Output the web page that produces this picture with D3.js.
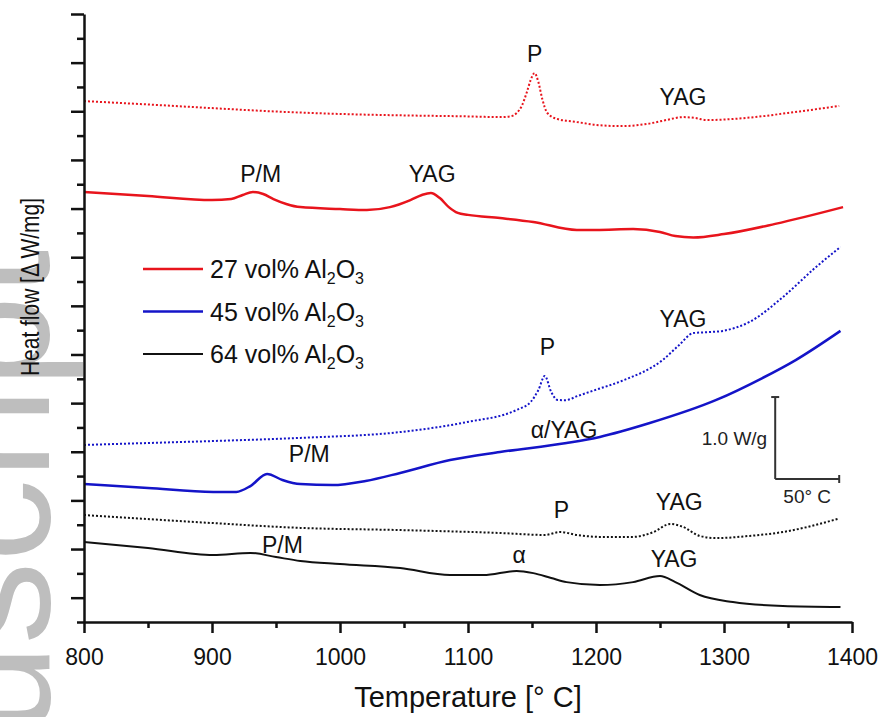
<!DOCTYPE html>
<html>
<head>
<meta charset="utf-8">
<script src="https://cdn.jsdelivr.net/npm/d3@7"></script>
<style>
  body { margin: 0; background: #fff; }
  text { font-family: "Liberation Sans", Arial, sans-serif; }
</style>
</head>
<body>
<div id="chart"></div>
<script>
// size of the picture
var w = 883;
var h = 717;

// data (y in tick units, 25 ticks on the axis)
var xTicks = [800, 900, 1000, 1100, 1200, 1300, 1400];
var xMinor = [850, 950, 1050, 1150, 1250, 1350];

var red2T = [800, 850, 900, 950, 1000, 1050, 1100, 1125, 1133, 1138, 1142, 1146, 1149, 1152, 1155, 1158, 1162, 1170, 1185, 1200, 1220, 1240, 1255, 1268, 1278, 1286, 1300, 1320, 1350, 1390];
var red2V = [21.42, 21.28, 21.13, 20.99, 20.89, 20.83, 20.79, 20.76, 20.79, 20.93, 21.22, 21.79, 22.29, 22.57, 22.20, 21.51, 20.93, 20.68, 20.56, 20.44, 20.39, 20.48, 20.64, 20.76, 20.72, 20.64, 20.66, 20.74, 20.93, 21.22];

var red1T = [800, 850, 900, 915, 924, 932, 940, 948, 958, 969, 1000, 1021, 1039, 1055, 1064, 1071, 1078, 1085, 1092, 1100, 1125, 1151, 1185, 1200, 1229, 1250, 1262, 1276, 1300, 1340, 1393];
var red1V = [17.68, 17.52, 17.35, 17.39, 17.56, 17.68, 17.60, 17.39, 17.19, 17.06, 16.98, 16.94, 17.06, 17.35, 17.56, 17.64, 17.43, 17.06, 16.82, 16.74, 16.61, 16.45, 16.12, 16.12, 16.16, 16.04, 15.87, 15.81, 15.95, 16.37, 17.06];

var blue2T = [800, 850, 900, 969, 1047, 1099, 1138, 1149, 1155, 1160, 1165, 1170, 1176, 1186, 1200, 1220, 1252, 1265, 1276, 1288, 1299, 1320, 1346, 1372, 1391];
var blue2V = [7.28, 7.36, 7.44, 7.57, 7.81, 8.22, 8.72, 9.05, 9.54, 10.12, 9.46, 9.13, 9.12, 9.30, 9.55, 9.91, 10.77, 11.39, 11.88, 11.92, 11.97, 12.34, 13.36, 14.60, 15.42];

var blue1T = [800, 850, 901, 919, 930, 943, 955, 969, 994, 1020, 1047, 1086, 1125, 1177, 1203, 1242, 1294, 1330, 1356, 1391];
var blue1V = [5.67, 5.51, 5.35, 5.35, 5.59, 6.09, 5.84, 5.67, 5.63, 5.80, 6.13, 6.66, 6.99, 7.36, 7.61, 8.18, 9.13, 10.03, 10.77, 11.97];

var black2T = [800, 900, 969, 1047, 1125, 1160, 1172, 1185, 1203, 1229, 1245, 1258, 1268, 1281, 1294, 1320, 1346, 1389];
var black2V = [4.40, 4.07, 3.87, 3.78, 3.66, 3.58, 3.70, 3.58, 3.50, 3.50, 3.70, 4.03, 3.91, 3.54, 3.45, 3.54, 3.70, 4.24];

var black1T = [800, 850, 901, 930, 950, 969, 1000, 1047, 1086, 1112, 1138, 1151, 1165, 1177, 1203, 1229, 1250, 1262, 1281, 1307, 1346, 1391];
var black1V = [3.29, 3.04, 2.75, 2.84, 2.67, 2.51, 2.38, 2.22, 1.93, 1.93, 2.10, 2.01, 1.81, 1.64, 1.52, 1.64, 1.89, 1.64, 1.11, 0.82, 0.66, 0.62];

// peak labels: text, temperature, value
var labelText = ["P", "YAG", "P/M", "YAG", "YAG", "P", "P/M", "\u03b1/YAG", "P", "YAG", "P/M", "\u03b1", "YAG"];
var labelT    = [1152, 1268, 938, 1072, 1268, 1162, 976, 1175, 1173, 1265, 955, 1140, 1261];
var labelV    = [23.03, 21.26, 18.11, 18.11, 12.12, 10.99, 6.58, 7.57, 4.28, 4.60, 2.82, 2.43, 2.26];

var legendNames = ["27", "45", "64"];
var legendColors = ["#e8141c", "#1414c8", "#111111"];

// scale bar: 1.0 W/g equals 3.37 tick units
var unitsPerWg = 3.37;

var svg = d3.select("#chart")
			.append("svg")
			.attr("width", w)
			.attr("height", h);

// watermark behind everything
svg.append("text")
   .attr("transform", "translate(49,250) rotate(-90)")
   .attr("text-anchor", "end")
   .attr("font-size", "165px")
   .attr("fill", "#bebebe")
   .text("Manuscript");

var x = d3.scaleLinear().domain([800, 1400]).range([84, 852]);
var y = d3.scaleLinear().domain([0, 25]).range([622, 14]);

var line = d3.line()
			 .x(function(d) { return x(d[0]); })
			 .y(function(d) { return y(d[1]); })
			 .curve(d3.curveMonotoneX);

function series(T, V) {
	return T.map(function(t, i) { return [t, V[i]]; });
}

var curves = [
	{ d: series(red2T, red2V), c: legendColors[0], wd: 2, dash: "2,2" },
	{ d: series(red1T, red1V), c: legendColors[0], wd: 2.5, dash: null },
	{ d: series(blue2T, blue2V), c: legendColors[1], wd: 2, dash: "2,2" },
	{ d: series(blue1T, blue1V), c: legendColors[1], wd: 2.5, dash: null },
	{ d: series(black2T, black2V), c: legendColors[2], wd: 2, dash: "2,2" },
	{ d: series(black1T, black1V), c: legendColors[2], wd: 2, dash: null }
];

svg.selectAll("path.curve")
   .data(curves)
   .enter()
   .append("path")
   .attr("class", "curve")
   .attr("d", function(d) { return line(d.d); })
   .attr("fill", "none")
   .attr("stroke", function(d) { return d.c; })
   .attr("stroke-width", function(d) { return d.wd; })
   .attr("stroke-dasharray", function(d) { return d.dash; });

// axes
var xAxis = svg.append("g")
			   .attr("transform", "translate(0,622)")
			   .call(d3.axisBottom(x).tickValues(xTicks).tickSize(11).tickSizeOuter(0).tickFormat(d3.format("d")));
xAxis.selectAll("text").attr("font-size", "23px").attr("fill", "#111").attr("dy", "1.25em");

svg.append("g")
   .attr("transform", "translate(0,622)")
   .call(d3.axisBottom(x).tickValues(xMinor).tickSize(6).tickFormat(""))
   .select(".domain").remove();

var yMajor = d3.range(1, 26, 2);
var yMinor = d3.range(0, 25, 2);

svg.append("g")
   .attr("transform", "translate(84,0)")
   .call(d3.axisLeft(y).tickValues(yMajor).tickSize(13).tickSizeOuter(0).tickFormat(""));
svg.append("g")
   .attr("transform", "translate(84,0)")
   .call(d3.axisLeft(y).tickValues(yMinor).tickSize(7).tickFormat(""))
   .select(".domain").remove();

svg.selectAll(".domain, .tick line")
   .attr("stroke", "#111")
   .attr("stroke-width", 2.5);

// axis titles
svg.append("text")
   .attr("x", 468)
   .attr("y", 707)
   .attr("text-anchor", "middle")
   .attr("font-size", "29px")
   .attr("fill", "#111")
   .text("Temperature [\u00b0 C]");

svg.append("text")
   .attr("transform", "translate(39,287) rotate(-90)")
   .attr("text-anchor", "middle")
   .attr("font-size", "25px")
   .attr("textLength", 178)
   .attr("lengthAdjust", "spacingAndGlyphs")
   .attr("fill", "#111")
   .text("Heat flow [\u0394 W/mg]");

// peak labels
svg.selectAll("text.peak")
   .data(labelText)
   .enter()
   .append("text")
   .attr("class", "peak")
   .attr("x", function(d, i) { return x(labelT[i]); })
   .attr("y", function(d, i) { return y(labelV[i]); })
   .attr("text-anchor", "middle")
   .attr("font-size", "23px")
   .attr("fill", "#111")
   .text(function(d) { return d; });

// legend
var leg = svg.selectAll("g.leg")
			 .data(legendNames)
			 .enter()
			 .append("g")
			 .attr("class", "leg")
			 .attr("transform", function(d, i) { return "translate(143," + (269 + i * 42.5) + ")"; });

leg.append("line")
   .attr("x1", 0)
   .attr("x2", 60)
   .attr("stroke", function(d, i) { return legendColors[i]; })
   .attr("stroke-width", function(d, i) { return i < 2 ? 2.5 : 1.8; });

var lt = leg.append("text")
			.attr("x", 67)
			.attr("y", 9)
			.attr("font-size", "25px")
			.attr("fill", "#111");
lt.append("tspan").text(function(d) { return d + " vol% Al"; });
lt.append("tspan").attr("font-size", "16px").attr("dy", 6).text("2");
lt.append("tspan").attr("dy", -6).text("O");
lt.append("tspan").attr("font-size", "16px").attr("dy", 6).text("3");

// scale bar
var sbT = 1340, sbV = 5.88, sbDT = 50;
var bar = svg.append("g").attr("stroke", "#333").attr("stroke-width", 2);
bar.append("line")
   .attr("x1", x(sbT)).attr("x2", x(sbT))
   .attr("y1", y(sbV)).attr("y2", y(sbV + unitsPerWg));
bar.append("line")
   .attr("x1", x(sbT) - 4).attr("x2", x(sbT) + 4)
   .attr("y1", y(sbV + unitsPerWg)).attr("y2", y(sbV + unitsPerWg));
bar.append("line")
   .attr("x1", x(sbT)).attr("x2", x(sbT + sbDT))
   .attr("y1", y(sbV)).attr("y2", y(sbV));
bar.append("line")
   .attr("x1", x(sbT + sbDT)).attr("x2", x(sbT + sbDT))
   .attr("y1", y(sbV) - 4).attr("y2", y(sbV) + 4);

svg.append("text")
   .attr("x", x(sbT) - 8)
   .attr("y", y(sbV + unitsPerWg / 2) + 7)
   .attr("text-anchor", "end")
   .attr("font-size", "19px")
   .attr("fill", "#222")
   .text("1.0 W/g");
svg.append("text")
   .attr("x", x(sbT + sbDT / 2))
   .attr("y", y(sbV) + 24)
   .attr("text-anchor", "middle")
   .attr("font-size", "19px")
   .attr("fill", "#222")
   .text("50\u00b0 C");
</script>
</body>
</html>
